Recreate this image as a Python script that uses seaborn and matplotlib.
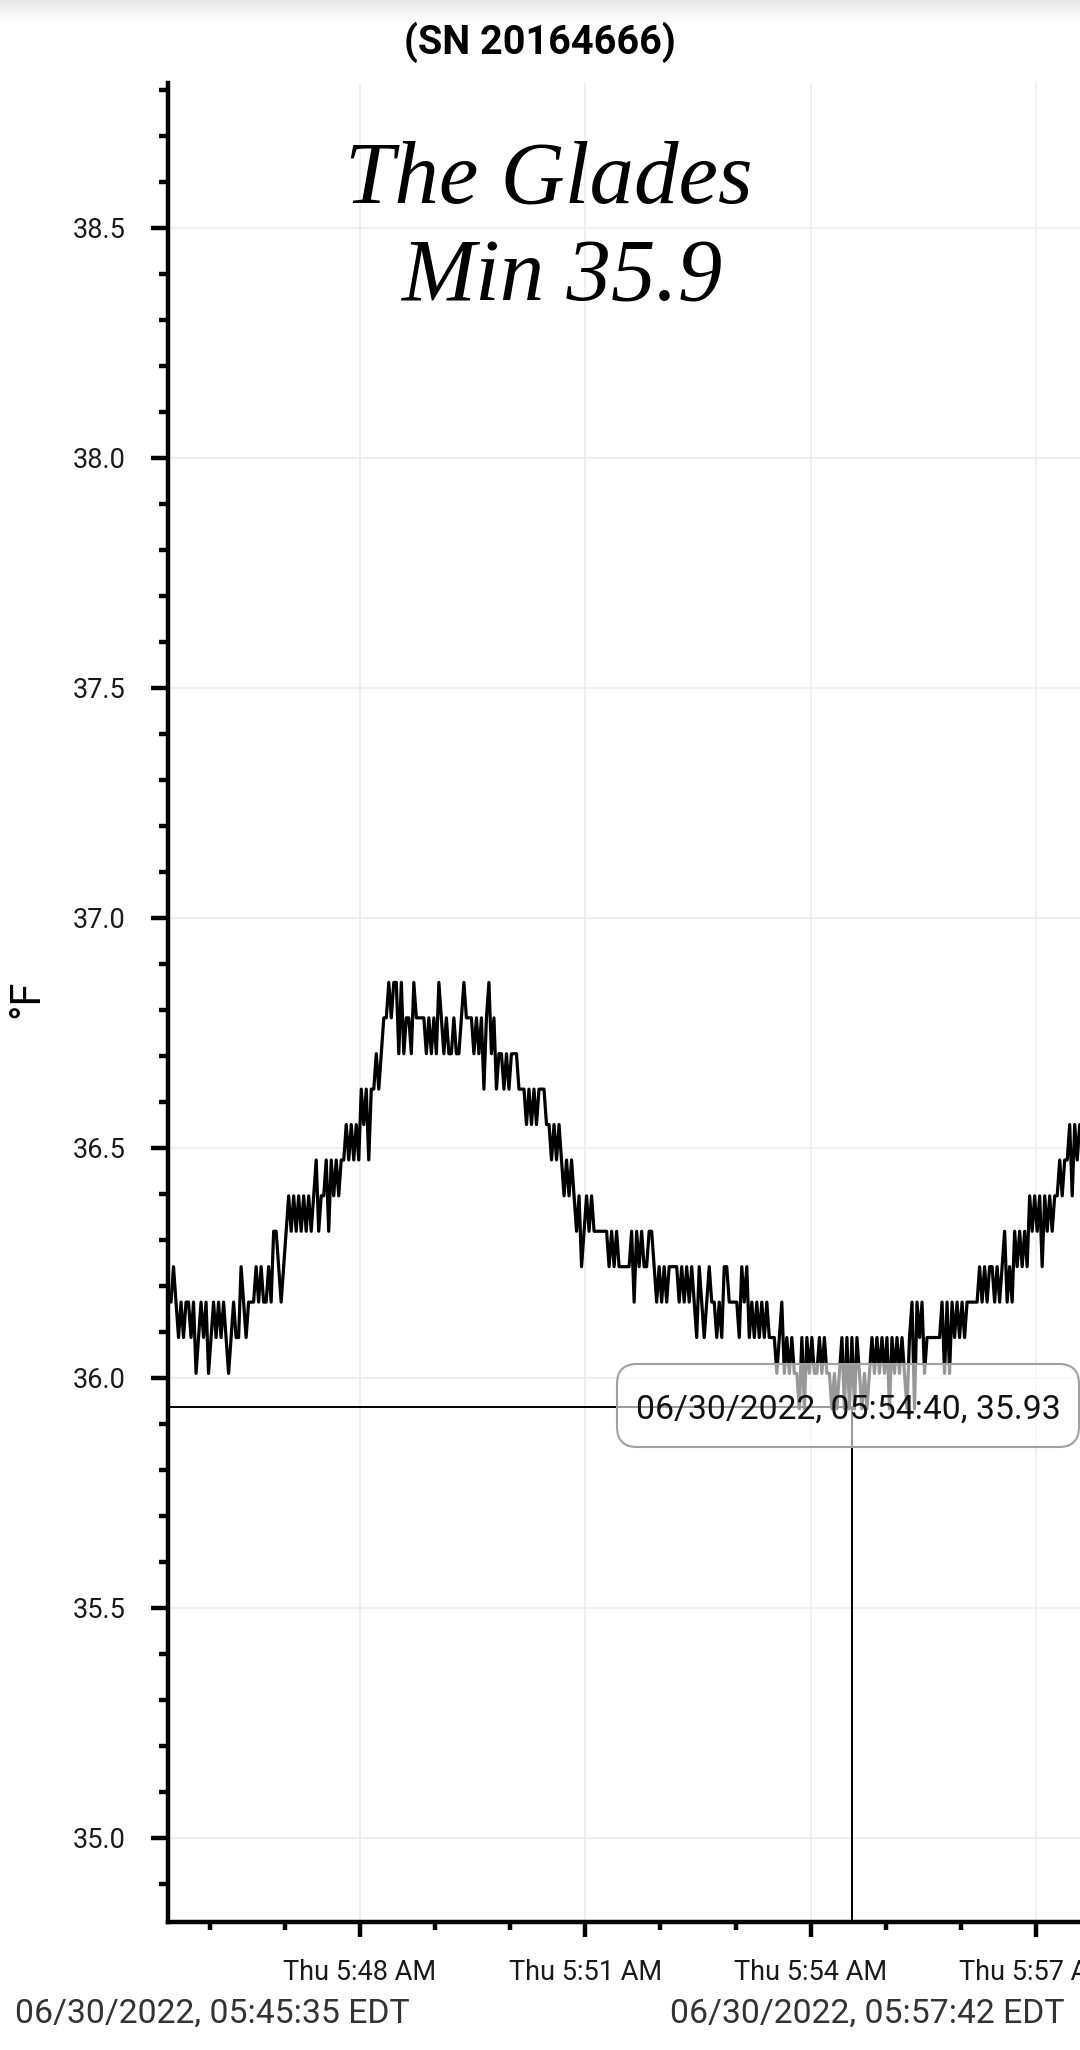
import numpy as np
import pandas as pd
import matplotlib
matplotlib.use("Agg")
import matplotlib.pyplot as plt
import matplotlib.dates as mdates
from matplotlib.ticker import MultipleLocator, FuncFormatter
from matplotlib.patches import FancyBboxPatch
from matplotlib.transforms import IdentityTransform
import seaborn as sns

W, H, DPI = 1080, 2050, 100

# ---------------- texts ----------------
title = "(SN 20164666)"
note_line1 = "The Glades"
note_line2 = "Min 35.9"
y_label = "°F"
start_label = "06/30/2022, 05:45:35 EDT"
end_label = "06/30/2022, 05:57:42 EDT"
tooltip_label = "06/30/2022, 05:54:40, 35.93"

# ---------------- data ----------------
# quantised temperature levels (°F)
levels = [35.932, 36.009, 36.087, 36.164, 36.241, 36.318, 36.395,
          36.473, 36.550, 36.627, 36.704, 36.782, 36.859]
# level index of each 2-second sample (a=10, b=11, c=12)
trace_part1 = ("3432323323" "1232312323" "2321232243" "2333434334" "3554345656"
               "5656565675" "6675767677" "8787879897" "99a9abbcbc")
trace_part2 = ("cacabbacbb" "bbababacba" "baabaabcbb" "babab9bcab" "9aa9a9aaa9"
               "9989898999" "8878787676" "7656456565" "5555545454" "44")
trace_part3 = ("4453545445" "5434343444" "4343434324" "3234332324" "4333324342"
               "3232323222" "1231212110" "2021211212" "1101012020" "20")
trace_part4 = ("2101012121" "2120212121" "0230323122" "2222313132" "3232333334"
               "3434434345" "3435454546" "5656465656" "6767786878" "88")
sample_start = "2022-06-30 05:45:29"
sample_step = "2s"

crosshair_time = "2022-06-30 05:54:33"
crosshair_value = 35.937

x_limits = ("2022-06-30 05:45:26.6", "2022-06-30 05:57:49.6")
y_limits = (34.817, 38.815)

codes = trace_part1 + trace_part2 + trace_part3 + trace_part4
temps = [levels[int(c, 16)] for c in codes]
times = pd.date_range(sample_start, periods=len(temps), freq=sample_step)
df = pd.DataFrame({"time": times, "temp": temps})

# ---------------- styling ----------------
sns.set_theme(style="white")
plt.rcParams["font.family"] = ["Roboto", "DejaVu Sans"]

fig = plt.figure(figsize=(W / DPI, H / DPI), dpi=DPI)
fig.patch.set_facecolor("white")

ax_left, ax_right = 168, 1098
ax_top, ax_bottom = 82.7, 1921.7
ax = fig.add_axes([ax_left / W, 1 - ax_bottom / H,
                   (ax_right - ax_left) / W, (ax_bottom - ax_top) / H])
ax.set_facecolor("white")

sns.lineplot(data=df, x="time", y="temp", ax=ax, color="black",
             linewidth=2.3, estimator=None, zorder=3)

# crosshair (drop lines from the hovered point)
ct = pd.Timestamp(crosshair_time)
ax.plot([pd.Timestamp(x_limits[0]), ct], [crosshair_value, crosshair_value],
        color="black", linewidth=1.4, zorder=4)
ax.plot([ct, ct], [crosshair_value, y_limits[0]],
        color="black", linewidth=1.4, zorder=4)

ax.set_xlim(pd.Timestamp(x_limits[0]), pd.Timestamp(x_limits[1]))
ax.set_ylim(*y_limits)

# axes decoration
for s in ["top", "right"]:
    ax.spines[s].set_visible(False)
for s in ["left", "bottom"]:
    ax.spines[s].set_color("black")
    ax.spines[s].set_linewidth(3.2)

ax.yaxis.set_major_locator(MultipleLocator(0.5))
ax.yaxis.set_minor_locator(MultipleLocator(0.1))
ax.yaxis.set_major_formatter(FuncFormatter(lambda v, p: f"{v:.1f}"))

ax.xaxis.set_major_locator(mdates.MinuteLocator(byminute=range(0, 60, 3)))
ax.xaxis.set_minor_locator(mdates.MinuteLocator())


def fmt_time(v, pos):
    d = mdates.num2date(v)
    h = d.hour % 12 or 12
    return f"{d:%a} {h}:{d:%M} {d:%p}"


ax.xaxis.set_major_formatter(FuncFormatter(fmt_time))

ax.tick_params(axis="y", which="major", direction="out", length=12.2, width=3.2,
               color="black", labelsize=19.5, labelcolor="#1a1a1a", pad=18.5,
               left=True)
ax.tick_params(axis="y", which="minor", direction="out", length=6.5, width=3.2,
               color="black", left=True)
ax.tick_params(axis="x", which="major", direction="out", length=10.8, width=3.2,
               color="black", labelsize=19.5, labelcolor="#1a1a1a", pad=16,
               bottom=True)
ax.tick_params(axis="x", which="minor", direction="out", length=5.8, width=3.2,
               color="black", bottom=True)

ax.grid(True, which="major", color="#ececec", linewidth=1.1)
ax.set_axisbelow(True)
ax.set_xlabel("")
ax.set_ylabel(y_label, fontsize=30, color="black")
ax.yaxis.set_label_coords((47 - ax_left) / (ax_right - ax_left), 0.502)

# top shadow gradient
gax = fig.add_axes([0, 1 - 22 / H, 1, 22 / H])
gax.imshow(np.linspace(0.9, 1.0, 60).reshape(-1, 1), aspect="auto", cmap="gray",
           vmin=0, vmax=1, extent=[0, 1, 0, 1])
gax.axis("off")

# title
fig.text(540 / W, 1 - 42 / H, title, ha="center", va="center",
         fontsize=28.5, fontweight="bold", color="black")

# handwritten-style annotation
fig.text(549 / W, 1 - 203 / H, note_line1, ha="center", va="baseline",
         fontsize=64, family=["Liberation Serif", "DejaVu Serif"], style="italic",
         color="black")
fig.text(561.5 / W, 1 - 300 / H, note_line2, ha="center", va="baseline",
         fontsize=64, family=["Liberation Serif", "DejaVu Serif"], style="italic",
         color="black")

# tooltip box
box = FancyBboxPatch((617, H - 1447), 1079 - 617, 1447 - 1364,
                     boxstyle="round,pad=0,rounding_size=20",
                     transform=IdentityTransform(),
                     edgecolor="#a0a0a0", linewidth=1.5, zorder=5)
box.set_facecolor((1, 1, 1, 0.6))
fig.add_artist(box)
fig.text(636 / W, 1 - 1418.3 / H, tooltip_label, ha="left", va="baseline",
         fontsize=24.3, color="#111111", zorder=6)

# range labels
fig.text(15 / W, 1 - 2014 / H, start_label, ha="left", va="center",
         fontsize=24.3, color="#333333")
fig.text(1064 / W, 1 - 2014 / H, end_label, ha="right", va="center",
         fontsize=24.3, color="#333333")

fig.savefig("out.png", dpi=DPI, facecolor="white")
